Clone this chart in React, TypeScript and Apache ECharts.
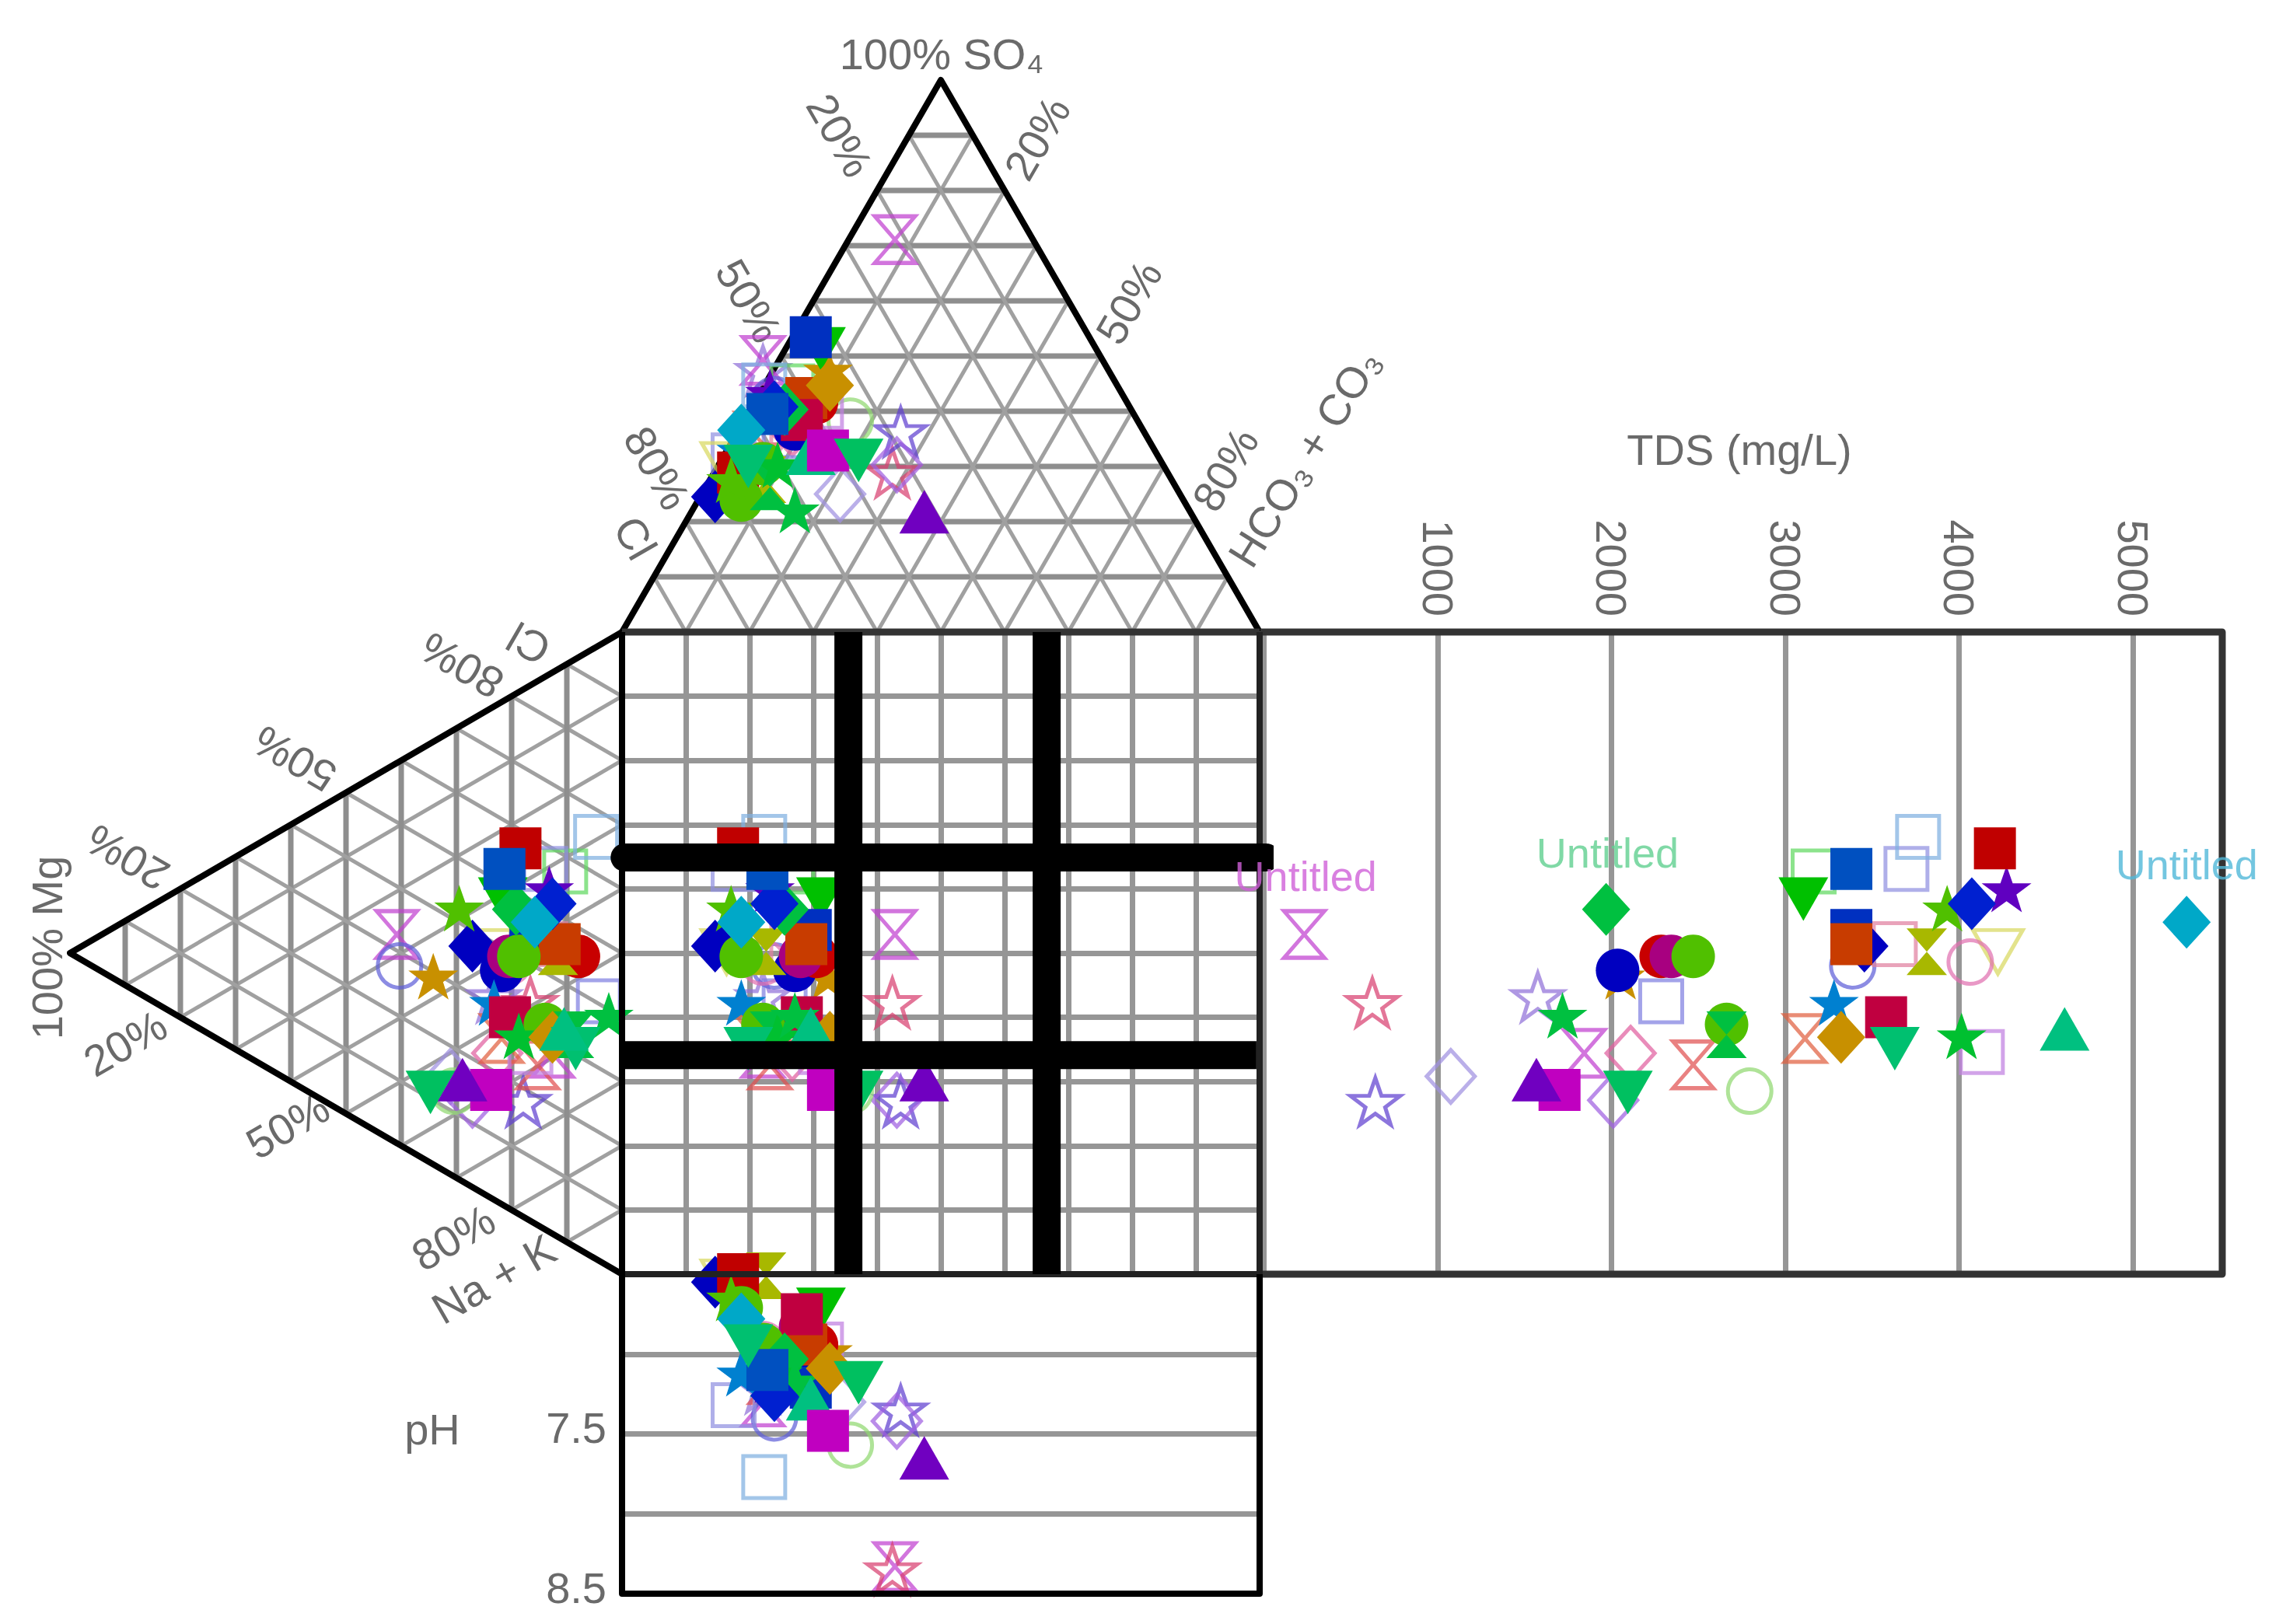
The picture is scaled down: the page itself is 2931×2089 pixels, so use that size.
import React, { useEffect, useRef } from "react";
import * as echarts from "echarts";

// one entry per water sample, in drawing order (outlined samples first)
const sampleShape = [
  "hourglass","star","star","diamond","star","hourglass","diamond","diamond","square","hourglass",
  "circle","square","hourglass","circle","square","square","square","down","circle","square",
  "star","diamond","circle","star","star","circle","circle","down","hourglass","square",
  "square","square","square","circle","circle","hourglass","star","diamond","star","star",
  "diamond","square","diamond","diamond","down","up","square","down","up",
];
const sampleColor = [
  "#c040d0","#d84070","#6040d0","#a090e0","#9070d8","#c040d0","#e060a0","#a060e0","#8080e0","#e05050",
  "#90d870","#60d860","#e06040","#6060d8","#e080a0","#9090e0","#80b0e0","#d8d860","#e070b0","#c080e0",
  "#c89000","#0000c0","#0000c0","#6000c0","#0080d0","#c80000","#a80080","#00c000","#a8b800","#0030c0",
  "#c83c00","#c00040","#c00000","#50c000","#50c000","#00c040","#50c000","#00c040","#00c030","#00c040",
  "#0020d0","#0050c0","#00a8c8","#c89000","#00c070","#00c080","#c000c0","#00c060","#7000c0",
];
const hollowCount = 20;
const tds = [
  232,624,641,1075,1576,1843,2110,2010,2286,2470,
  2795,3163,3113,3388,3630,3697,3764,4223,4064,4131,
  2052,3455,2035,4273,3280,2286,2344,3104,3814,3380,
  3380,3580,4206,2470,2662,2662,3931,1969,4014,1718,
  4073,3380,5309,3321,3630,4607,1701,2094,1568,
];
const anionX = [
  42.8,42.4,43.7,34.2,22.1,22.1,26.7,43.1,25.5,23.2,
  35.8,26.7,21,23.9,26.7,17.5,22.3,16.4,22.1,31.2,
  32.3,14.6,27.1,23.2,18.7,30.5,28,31.2,22.6,29.6,
  28.9,28.2,18.2,18.7,22.1,23.2,17.1,25.5,24.4,27.1,
  23.9,22.8,18.7,32.6,19.8,29.6,32.3,37.1,47.4,
];
const cationY = [
  47.1,57.7,73.1,69.2,56.8,65.6,65.6,72.9,57.5,67.4,
  71.5,37.3,63.3,52,48.6,36.9,31.9,49.8,51.4,65.4,
  53.6,48.9,52.7,40,57.7,50.5,50.5,41.6,49.8,46.4,
  48.6,60,33.7,50.5,61.1,62.7,43,43.2,62.9,59.7,
  42.3,36.9,45.2,63.1,64.9,61.8,71.3,71.7,69.7,
];
const so4 = [
  71.1,28.9,36.3,25,47.4,49.2,36.8,30.3,35.5,38.2,
  38.2,44.5,35.5,42.1,32.9,32,44.7,30.3,35.5,40.8,
  47.4,24.5,36.8,43.4,32.9,41.6,39.7,51.3,27.6,53.4,
  42.4,38.4,28.9,23.9,30.5,26.3,27.6,40.3,30.3,22.1,
  40.8,39.5,36.6,44.7,30,32.4,32.9,31.1,21.8,
];
const mg = [
  59.2,83.4,82.1,68.9,76.8,87.4,77.4,72.9,95.8,84.7,
  69.5,89.7,78.2,59.7,86.1,86.1,95.3,77.9,79.5,83.4,
  65.8,72.9,78.2,86.8,76.8,92.1,79.5,78.4,88.4,83.4,
  88.7,79.7,81.6,81.3,86.1,91.3,70.5,80.8,81.3,97.6,
  87.4,78.7,84.2,87.4,91.6,89.5,76.3,65.3,71.1,
];
const ph = [
  8.33,8.35,7.35,7.3,7.21,7.3,7.16,7.42,7.12,7.16,
  7.57,6.98,7.03,7.4,7.07,7.32,7.77,6.55,6.94,6.94,
  6.98,6.55,7.15,7.16,7.12,6.94,6.83,6.72,6.51,7.21,
  6.94,6.75,6.5,6.71,6.94,7.12,6.65,7.03,7.12,7.17,
  7.26,7.1,6.78,7.09,6.95,7.28,7.48,7.18,7.65,
];

const tdsTicks = [1000, 2000, 3000, 4000, 5000];
const phTicks = [7.5, 8.5];
const gridSteps = [10, 20, 30, 40, 50, 60, 70, 80, 90];
const groupLabels = ["Untitled", "Untitled", "Untitled"];
const groupLabelTds = [240, 1977, 5309];
const groupLabelY = [38, 34.4, 36.2];
const groupLabelColor = ["#d060d8", "#60d090", "#50b8d8"];
const dividerX = [35.5, 66.6];
const dividerY = [35.1, 65.9];

const SHAPES: Record<string, string> = {
  square: "rect",
  circle: "circle",
  diamond: "path://M5 0L10 5.5L5 11L0 5.5Z",
  up: "path://M5 0L10 10L0 10Z",
  down: "path://M0 0L10 0L5 10Z",
  hourglass: "path://M0 0L10 0L0 10L10 10Z",
  star: "path://M50 0L61.8 34.5L97.6 34.5L68.8 56.5L79.4 90.5L50 69L20.6 90.5L31.2 56.5L2.4 34.5L38.2 34.5Z",
};
const SIZES: Record<string, number[]> = {
  square: [54, 54],
  circle: [56, 56],
  diamond: [62, 68],
  up: [64, 56],
  down: [64, 56],
  hourglass: [52, 60],
  star: [64, 60],
};

const TEXT = "#6a6a6a";
const FONT = "Liberation Sans";

function points(getValue: (i: number) => number[]) {
  return sampleShape.map((shape, i) => {
    const hollow = i < hollowCount;
    return {
      value: getValue(i),
      symbol: SHAPES[shape],
      symbolSize: SIZES[shape],
      itemStyle: hollow
        ? { color: "rgba(255,255,255,0)", borderColor: sampleColor[i], borderWidth: 5, opacity: 0.72 }
        : { color: sampleColor[i], borderWidth: 0, opacity: 1 },
    };
  });
}

function line(grid: number, data: number[][], color: string, width: number, z: number, cap = "butt") {
  return {
    type: "line",
    xAxisIndex: grid,
    yAxisIndex: grid,
    data,
    symbol: "none",
    silent: true,
    clip: false,
    z,
    lineStyle: { color, width, cap, join: "round" },
  };
}

function scatter(grid: number, getValue: (i: number) => number[]) {
  return {
    type: "scatter",
    xAxisIndex: grid,
    yAxisIndex: grid,
    clip: false,
    silent: true,
    z: 3,
    data: points(getValue),
  };
}

function label(text: string, cx: number, cy: number, deg = 0) {
  return {
    type: "text",
    x: cx,
    y: cy,
    rotation: (deg * Math.PI) / 180,
    silent: true,
    style: { text, fill: TEXT, font: `56px "${FONT}"`, align: "center", verticalAlign: "middle" },
  };
}

const bareAxis = (min: number, max: number, inverse = false) => ({
  type: "value",
  min,
  max,
  inverse,
  axisLine: { show: false },
  axisTick: { show: false },
  axisLabel: { show: false },
  splitLine: { show: false },
});
const GRIDLINE = { show: true, lineStyle: { color: "#969696", width: 7 } };

function buildOption() {
  const gridSeries: any[] = [];
  gridSteps.forEach((s) => {
    // top triangle
    gridSeries.push(line(0, [[s / 2, s], [100 - s / 2, s]], "#8e8e8e", 7, 1));
    gridSeries.push(line(0, [[s, 0], [s + (100 - s) / 2, 100 - s]], "#a0a0a0", 5, 1));
    gridSeries.push(line(0, [[s, 0], [s / 2, s]], "#a0a0a0", 5, 1));
    // left triangle
    gridSeries.push(line(1, [[s, 50 - s / 2], [s, 50 + s / 2]], "#8e8e8e", 7, 1));
    gridSeries.push(line(1, [[100, s], [s, 50 + s / 2]], "#a0a0a0", 5, 1));
    gridSeries.push(line(1, [[100, s], [100 - s, s / 2]], "#a0a0a0", 5, 1));
  });
  const series: any[] = [
    ...gridSeries,
    line(0, [[0, 0], [50, 100], [100, 0]], "#000", 8, 2),
    line(1, [[100, 0], [0, 50], [100, 100]], "#000", 8, 2),
    scatter(1, (i) => [mg[i], cationY[i]]),
    scatter(0, (i) => [anionX[i], so4[i]]),
    scatter(4, (i) => [anionX[i], ph[i]]),
    scatter(3, (i) => [tds[i], cationY[i]]),
    scatter(2, (i) => [anionX[i], cationY[i]]),
    line(3, [[-25, 0], [5514, 0], [5514, 100], [-25, 100]], "#333", 9, 4),
    line(2, [[0, 0], [100, 0]], "#333", 9, 4),
    line(2, [[100, 0], [100, 100], [0, 100]], "#222", 8, 4),
    line(2, [[0, 100], [0, 0]], "#000", 8, 4),
    line(4, [[0, 6.5], [0, 8.5], [100, 8.5], [100, 6.5]], "#000", 8, 4),
    line(2, [[dividerX[0], 0], [dividerX[0], 100]], "#000", 36, 5),
    line(2, [[dividerX[1], 0], [dividerX[1], 100]], "#000", 36, 5),
    line(2, [[0.4, dividerY[0]], [101, dividerY[0]]], "#000", 36, 5, "round"),
    line(2, [[0, dividerY[1]], [99.5, dividerY[1]]], "#000", 36, 5),
    {
      type: "scatter",
      xAxisIndex: 3,
      yAxisIndex: 3,
      clip: false,
      silent: true,
      symbolSize: 0,
      z: 6,
      data: groupLabels.map((t, i) => ({
        value: [groupLabelTds[i], groupLabelY[i]],
        label: {
          show: true,
          position: "inside",
          formatter: t,
          color: groupLabelColor[i],
          fontSize: 54,
          fontFamily: FONT,
        },
      })),
    },
  ];

  return {
    animation: false,
    backgroundColor: "#fff",
    grid: [
      { left: 800, top: 103, width: 820, height: 710 },
      { left: 90, top: 813, width: 710, height: 826 },
      { left: 800, top: 813, width: 820, height: 826 },
      { left: 1625.5, top: 813, width: 1232.5, height: 826 },
      { left: 800, top: 1639, width: 820, height: 411 },
    ],
    xAxis: [
      { ...bareAxis(0, 100), gridIndex: 0 },
      { ...bareAxis(0, 100), gridIndex: 1 },
      { ...bareAxis(0, 100), gridIndex: 2, interval: 10, splitLine: GRIDLINE },
      {
        ...bareAxis(0, 5514),
        gridIndex: 3,
        position: "top",
        interval: 1000,
        splitLine: GRIDLINE,
        axisLabel: {
          show: true,
          rotate: -90,
          margin: 20,
          color: TEXT,
          fontSize: 56,
          fontFamily: FONT,
          showMinLabel: false,
          showMaxLabel: false,
          formatter: (v: number) => (tdsTicks.includes(v) ? String(v) : ""),
        },
      },
      { ...bareAxis(0, 100), gridIndex: 4 },
    ],
    yAxis: [
      { ...bareAxis(0, 100), gridIndex: 0 },
      { ...bareAxis(0, 100, true), gridIndex: 1 },
      { ...bareAxis(0, 100, true), gridIndex: 2, interval: 10, splitLine: GRIDLINE },
      { ...bareAxis(0, 100, true), gridIndex: 3 },
      {
        ...bareAxis(6.5, 8.5, true),
        gridIndex: 4,
        interval: 0.5,
        splitLine: GRIDLINE,
        axisLabel: {
          show: true,
          margin: 20,
          color: TEXT,
          fontSize: 56,
          fontFamily: FONT,
          verticalAlign: "bottom",
          lineHeight: 16,
          formatter: (v: number) => (phTicks.includes(v) ? v.toFixed(1) : ""),
        },
      },
    ],
    graphic: [
      label("100% SO₄", 1211, 69),
      label("20%", 1080, 174, -60),
      label("50%", 963, 387, -60),
      label("80%", 845, 602, -60),
      label("Cl", 817, 692, -60),
      label("20%", 1334, 178, 60),
      label("50%", 1452, 389, 60),
      label("80%", 1576, 604, 60),
      label("HCO₃ + CO₃", 1678, 589, 58),
      label("100% Mg", 60, 1219, 90),
      label("20%", 164, 1103, 150),
      label("50%", 379, 976, 150),
      label("80%", 594, 856, 150),
      label("Cl", 680, 828, 150),
      label("20%", 161, 1342, 30),
      label("50%", 370, 1448, 30),
      label("80%", 583, 1592, 30),
      label("Na + K", 635, 1645, 30),
      label("TDS (mg/L)", 2237, 578),
      label("pH", 556, 1838),
    ],
    series,
  };
}

export default function App() {
  const ref = useRef<HTMLDivElement>(null);
  useEffect(() => {
    document.body.style.margin = "0";
    const chart = echarts.init(ref.current!, undefined, { renderer: "svg" });
    chart.setOption(buildOption() as any);
    return () => chart.dispose();
  }, []);
  return <div ref={ref} style={{ width: 2931, height: 2089 }} />;
}
